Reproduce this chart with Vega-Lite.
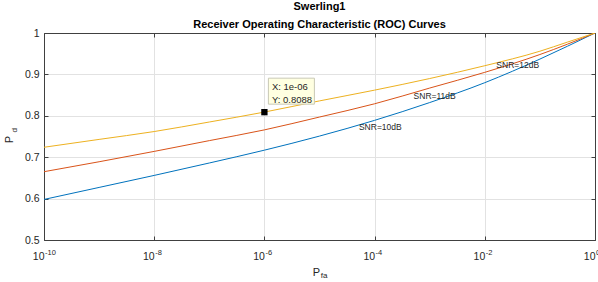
{
  "$schema": "https://vega.github.io/schema/vega-lite/v6.json",
  "width": 551,
  "height": 207,
  "autosize": {"type": "none"},
  "padding": {"left": 44, "top": 33, "right": 3, "bottom": 42},
  "background": "white",
  "title": {
    "text": ["Swerling1", "Receiver Operating Characteristic (ROC) Curves"],
    "fontSize": 11,
    "fontWeight": "bold",
    "font": "Liberation Sans",
    "color": "#000000",
    "lineHeight": 17.5,
    "anchor": "middle",
    "baseline": "bottom",
    "offset": 0,
    "dy": 12.5
  },
  "config": {
    "view": {"stroke": null},
    "font": "Liberation Sans",
    "axis": {
      "domainColor": "#404040",
      "domainWidth": 1,
      "tickColor": "#404040",
      "tickWidth": 1,
      "labelColor": "#262626",
      "labelFont": "Liberation Sans",
      "labelFontSize": 10,
      "titleColor": "#262626",
      "titleFont": "Liberation Sans",
      "titleFontWeight": "normal",
      "gridColor": "#e2e2e2",
      "gridWidth": 1
    }
  },
  "datasets": {
    "curves": [
      {"pfa": 1e-10, "pd": 0.598, "snr": "SNR=10dB"},
      {"pfa": 1e-9, "pd": 0.627, "snr": "SNR=10dB"},
      {"pfa": 1e-8, "pd": 0.656, "snr": "SNR=10dB"},
      {"pfa": 1e-7, "pd": 0.686, "snr": "SNR=10dB"},
      {"pfa": 1e-6, "pd": 0.717, "snr": "SNR=10dB"},
      {"pfa": 1e-5, "pd": 0.751, "snr": "SNR=10dB"},
      {"pfa": 1e-4, "pd": 0.789, "snr": "SNR=10dB"},
      {"pfa": 1e-3, "pd": 0.832, "snr": "SNR=10dB"},
      {"pfa": 1e-2, "pd": 0.880, "snr": "SNR=10dB"},
      {"pfa": 1e-1, "pd": 0.937, "snr": "SNR=10dB"},
      {"pfa": 0.3162, "pd": 0.968, "snr": "SNR=10dB"},
      {"pfa": 1, "pd": 1.0, "snr": "SNR=10dB"},
      {"pfa": 1e-10, "pd": 0.665, "snr": "SNR=11dB"},
      {"pfa": 1e-9, "pd": 0.689, "snr": "SNR=11dB"},
      {"pfa": 1e-8, "pd": 0.714, "snr": "SNR=11dB"},
      {"pfa": 1e-7, "pd": 0.740, "snr": "SNR=11dB"},
      {"pfa": 1e-6, "pd": 0.766, "snr": "SNR=11dB"},
      {"pfa": 1e-5, "pd": 0.797, "snr": "SNR=11dB"},
      {"pfa": 1e-4, "pd": 0.829, "snr": "SNR=11dB"},
      {"pfa": 1e-3, "pd": 0.867, "snr": "SNR=11dB"},
      {"pfa": 1e-2, "pd": 0.905, "snr": "SNR=11dB"},
      {"pfa": 1e-1, "pd": 0.948, "snr": "SNR=11dB"},
      {"pfa": 0.3162, "pd": 0.973, "snr": "SNR=11dB"},
      {"pfa": 1, "pd": 1.0, "snr": "SNR=11dB"},
      {"pfa": 1e-10, "pd": 0.724, "snr": "SNR=12dB"},
      {"pfa": 1e-9, "pd": 0.743, "snr": "SNR=12dB"},
      {"pfa": 1e-8, "pd": 0.762, "snr": "SNR=12dB"},
      {"pfa": 1e-7, "pd": 0.785, "snr": "SNR=12dB"},
      {"pfa": 1e-6, "pd": 0.809, "snr": "SNR=12dB"},
      {"pfa": 1e-5, "pd": 0.836, "snr": "SNR=12dB"},
      {"pfa": 1e-4, "pd": 0.862, "snr": "SNR=12dB"},
      {"pfa": 1e-3, "pd": 0.890, "snr": "SNR=12dB"},
      {"pfa": 1e-2, "pd": 0.921, "snr": "SNR=12dB"},
      {"pfa": 1e-1, "pd": 0.956, "snr": "SNR=12dB"},
      {"pfa": 0.3162, "pd": 0.978, "snr": "SNR=12dB"},
      {"pfa": 1, "pd": 1.0, "snr": "SNR=12dB"}
    ],
    "labels": [
      {"pfa": 5.2e-5, "pd": 0.7727, "label": "SNR=10dB"},
      {"pfa": 5.1e-4, "pd": 0.8467, "label": "SNR=11dB"},
      {"pfa": 1.62e-2, "pd": 0.9234, "label": "SNR=12dB"}
    ],
    "exponents": [
      {"pfa": 1e-10, "pd": 0.5, "exp": "-10"},
      {"pfa": 1e-8, "pd": 0.5, "exp": "-8"},
      {"pfa": 1e-6, "pd": 0.5, "exp": "-6"},
      {"pfa": 1e-4, "pd": 0.5, "exp": "-4"},
      {"pfa": 1e-2, "pd": 0.5, "exp": "-2"},
      {"pfa": 1, "pd": 0.5, "exp": "0"}
    ],
    "tip": [
      {"pfa": 1e-6, "pd": 0.8088, "xtext": "X: 1e-06", "ytext": "Y: 0.8088"}
    ]
  },
  "layer": [
    {
      "data": {"name": "curves"},
      "mark": {"type": "line", "strokeWidth": 1, "interpolate": "monotone", "clip": true},
      "encoding": {
        "x": {
          "field": "pfa",
          "type": "quantitative",
          "scale": {"type": "log", "domain": [1e-10, 1], "nice": false},
          "axis": {
            "orient": "bottom",
            "values": [1e-10, 1e-8, 1e-6, 1e-4, 1e-2, 1],
            "labelExpr": "'10'",
            "labelAlign": "right",
            "labelBaseline": "alphabetic",
            "labelDx": 1,
            "labelFontSize": 10.5,
            "labelFlush": false,
            "labelOverlap": false,
            "grid": true,
            "tickSize": -4,
            "labelPadding": 23,
            "title": "P",
            "titleFontSize": 11,
            "titleX": 272,
            "titleY": 35,
            "titleAlign": "center",
            "titleBaseline": "alphabetic"
          }
        },
        "y": {
          "field": "pd",
          "type": "quantitative",
          "scale": {"domain": [0.5, 1], "nice": false, "zero": false},
          "axis": {
            "orient": "left",
            "values": [0.5, 0.6, 0.7, 0.8, 0.9, 1],
            "format": "~g",
            "labelFontSize": 10.5,
            "labelFlush": false,
            "labelOverlap": false,
            "grid": true,
            "tickSize": -4,
            "labelPadding": 9,
            "title": "P",
            "titleFontSize": 11,
            "titleAngle": 270,
            "titleX": -32,
            "titleY": 106,
            "titleAlign": "center",
            "titleBaseline": "alphabetic"
          }
        },
        "color": {
          "field": "snr",
          "type": "nominal",
          "scale": {"domain": ["SNR=10dB", "SNR=11dB", "SNR=12dB"], "range": ["#0072BD", "#D95319", "#EDB120"]},
          "legend": null
        }
      }
    },
    {
      "data": {"name": "labels"},
      "mark": {"type": "text", "align": "left", "baseline": "middle", "fontSize": 8.5, "color": "#262626"},
      "encoding": {
        "x": {
          "field": "pfa",
          "type": "quantitative",
          "axis": {
            "orient": "top",
            "values": [1e-10, 1e-8, 1e-6, 1e-4, 1e-2, 1],
            "labels": false,
            "grid": false,
            "tickSize": -4,
            "title": null
          }
        },
        "y": {
          "field": "pd",
          "type": "quantitative",
          "axis": {
            "orient": "right",
            "values": [0.5, 0.6, 0.7, 0.8, 0.9, 1],
            "labels": false,
            "grid": false,
            "tickSize": -4,
            "title": null
          }
        },
        "text": {"field": "label"}
      }
    },
    {
      "data": {"name": "exponents"},
      "mark": {"type": "text", "align": "left", "baseline": "alphabetic", "fontSize": 7.5, "color": "#262626", "xOffset": 1, "yOffset": 15},
      "encoding": {
        "x": {"field": "pfa", "type": "quantitative", "axis": null},
        "y": {"field": "pd", "type": "quantitative", "axis": null},
        "text": {"field": "exp"}
      }
    },
    {
      "data": {"name": "tip"},
      "mark": {"type": "rect", "fill": "#ffffe1", "stroke": "#c9c9b6", "strokeWidth": 1, "xOffset": 4, "x2Offset": 50, "yOffset": -34, "y2Offset": -8},
      "encoding": {
        "x": {"field": "pfa", "type": "quantitative", "axis": null},
        "x2": {"field": "pfa"},
        "y": {"field": "pd", "type": "quantitative", "axis": null},
        "y2": {"field": "pd"}
      }
    },
    {
      "data": {"name": "tip"},
      "mark": {"type": "text", "align": "left", "baseline": "alphabetic", "fontSize": 9.5, "color": "#262626", "xOffset": 7.5, "yOffset": -22.5},
      "encoding": {
        "x": {"field": "pfa", "type": "quantitative", "axis": null},
        "y": {"field": "pd", "type": "quantitative", "axis": null},
        "text": {"field": "xtext"}
      }
    },
    {
      "data": {"name": "tip"},
      "mark": {"type": "text", "align": "left", "baseline": "alphabetic", "fontSize": 9.5, "color": "#262626", "xOffset": 7.5, "yOffset": -9.5},
      "encoding": {
        "x": {"field": "pfa", "type": "quantitative", "axis": null},
        "y": {"field": "pd", "type": "quantitative", "axis": null},
        "text": {"field": "ytext"}
      }
    },
    {
      "data": {"name": "tip"},
      "mark": {"type": "point", "shape": "square", "filled": true, "size": 40, "color": "#000000", "opacity": 1},
      "encoding": {
        "x": {"field": "pfa", "type": "quantitative", "axis": null},
        "y": {"field": "pd", "type": "quantitative", "axis": null}
      }
    },
    {
      "data": {"values": [{"pfa": 1.05e-5, "pd": 0.5, "sub": "fa"}]},
      "mark": {"type": "text", "align": "left", "baseline": "alphabetic", "fontSize": 8, "color": "#262626", "yOffset": 38},
      "encoding": {
        "x": {"field": "pfa", "type": "quantitative", "axis": null},
        "y": {"field": "pd", "type": "quantitative", "axis": null},
        "text": {"field": "sub"}
      }
    },
    {
      "data": {"values": [{"pfa": 1e-10, "pd": 0.765, "sub": "d"}]},
      "mark": {"type": "text", "align": "center", "baseline": "alphabetic", "angle": 270, "fontSize": 8, "color": "#262626", "xOffset": -27.5},
      "encoding": {
        "x": {"field": "pfa", "type": "quantitative", "axis": null},
        "y": {"field": "pd", "type": "quantitative", "axis": null},
        "text": {"field": "sub"}
      }
    }
  ],
  "resolve": {"axis": {"x": "independent", "y": "independent"}}
}
